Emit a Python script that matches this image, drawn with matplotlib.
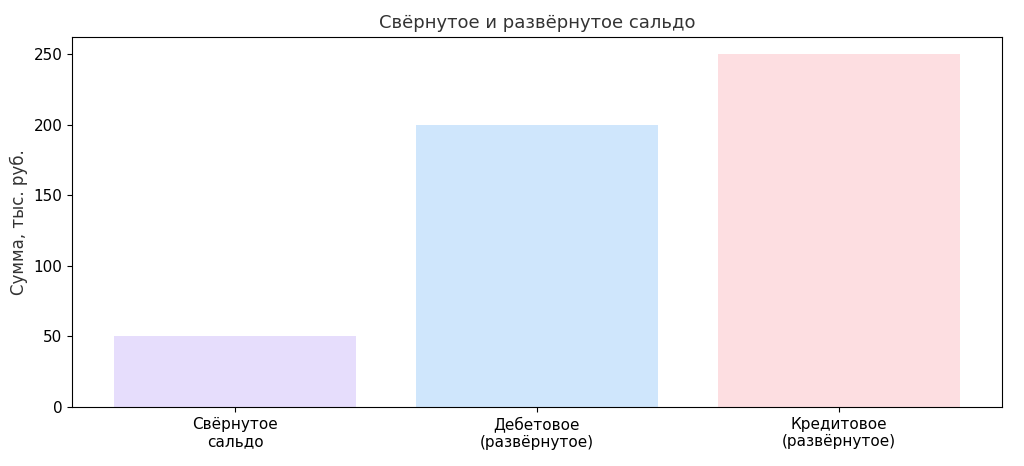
import matplotlib
matplotlib.use("Agg")
import matplotlib.pyplot as plt

categories = ["Свёрнутое\nсальдо", "Дебетовое\n(развёрнутое)", "Кредитовое\n(развёрнутое)"]
values = [50, 200, 250]
colors = ["#E6DDFC", "#CFE6FC", "#FDDEE1"]

fig = plt.figure(figsize=(10.24, 4.66), dpi=100)
ax = fig.add_axes([0.0703, 0.127, 0.908, 0.794])
ax.bar(categories, values, color=colors, width=0.8)
ax.set_ylabel("Сумма, тыс. руб.", fontsize=12, color="#333333")
ax.set_title("Свёрнутое и развёрнутое сальдо", fontsize=13, color="#333333")
ax.tick_params(labelsize=11)
fig.savefig("out.png", dpi=100)
